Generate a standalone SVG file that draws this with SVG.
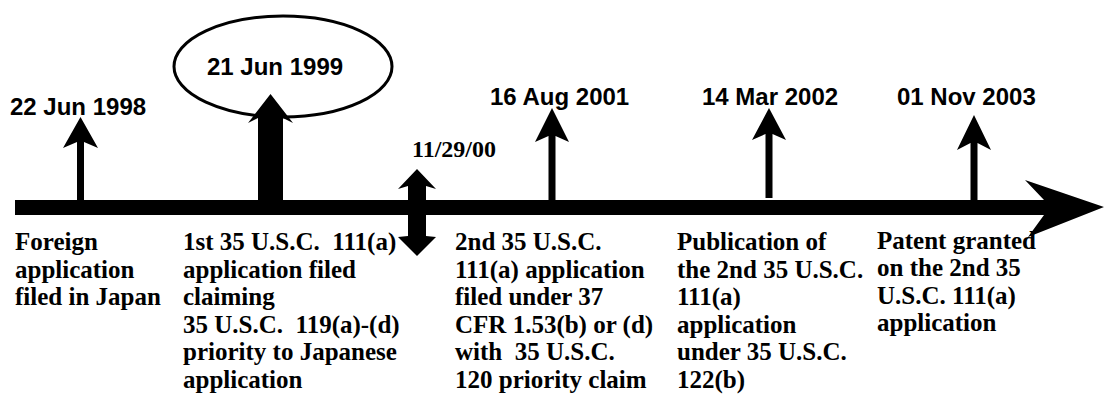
<svg xmlns="http://www.w3.org/2000/svg" width="1104" height="395" viewBox="0 0 1104 395">
<style>
.date{font-family:"Liberation Sans",Arial,sans-serif;font-weight:bold;font-size:24px;fill:#000}
.note{font-family:"Liberation Serif","Times New Roman",serif;font-weight:bold;font-size:25px;fill:#000;white-space:pre}
.blk{fill:#000;stroke:none}
</style>
<rect width="1104" height="395" fill="#fff"/>
<g id="timeline">
<rect class="blk" x="15" y="200" width="1032" height="15"/>
<polygon class="blk" points="1025,180 1104,207 1028,237 1044,215 1044,200"/>
</g>
<g id="connectors">
<polygon class="blk" points="80.5,117 98,148 84,142 84,200 77,200 77,142 63,148"/>
<polygon class="blk" points="270.5,94 293,123 283,118 283,200 258,200 258,118 248,123"/>
<polygon class="blk" points="417,169 436,189 426,186 426,236 436,237 417,256 398,237 408,236 408,186 398,189"/>
<polygon class="blk" points="552,108 569,142 555.5,136 555.5,200 548.5,200 548.5,136 535,142"/>
<polygon class="blk" points="769,108 786,140 772.5,134 772.5,198 765.5,198 765.5,134 752,140"/>
<polygon class="blk" points="974,115 991,150 977.5,143 977.5,200 970.5,200 970.5,143 957,150"/>
</g>
<g id="n1998">
<text class="date" x="10" y="115">22 Jun 1998</text>
<text class="note" x="15" y="250">Foreign</text>
<text class="note" x="15" y="277.6">application</text>
<text class="note" x="15" y="305.2">filed in Japan</text>
</g>
<g id="n1999">
<ellipse cx="283" cy="66.5" rx="109" ry="50.5" fill="none" stroke="#000" stroke-width="3"/>
<text class="date" x="207" y="75">21 Jun 1999</text>
<text class="note" x="183" y="250">1st 35 U.S.C.  111(a)</text>
<text class="note" x="183" y="277.6">application filed</text>
<text class="note" x="183" y="305.2">claiming</text>
<text class="note" x="183" y="332.8">35 U.S.C.  119(a)-(d)</text>
<text class="note" x="183" y="360.4">priority to Japanese</text>
<text class="note" x="183" y="388">application</text>
</g>
<g id="n2000">
<text class="note" x="412" y="157" style="font-size:24px">11/29/00</text>
</g>
<g id="n2001">
<text class="date" x="490" y="105">16 Aug 2001</text>
<text class="note" x="455" y="250">2nd 35 U.S.C.</text>
<text class="note" x="455" y="277.6">111(a) application</text>
<text class="note" x="455" y="305.2">filed under 37</text>
<text class="note" x="455" y="332.8">CFR 1.53(b) or (d)</text>
<text class="note" x="455" y="360.4">with  35 U.S.C.</text>
<text class="note" x="455" y="388">120 priority claim</text>
</g>
<g id="n2002">
<text class="date" x="702" y="105">14 Mar 2002</text>
<text class="note" x="677" y="250">Publication of</text>
<text class="note" x="677" y="277.6">the 2nd 35 U.S.C.</text>
<text class="note" x="677" y="305.2">111(a)</text>
<text class="note" x="677" y="332.8">application</text>
<text class="note" x="677" y="360.4">under 35 U.S.C.</text>
<text class="note" x="677" y="388">122(b)</text>
</g>
<g id="n2003">
<text class="date" x="897" y="105">01 Nov 2003</text>
<text class="note" x="877" y="248.5">Patent granted</text>
<text class="note" x="877" y="276.1">on the 2nd 35</text>
<text class="note" x="877" y="303.7">U.S.C. 111(a)</text>
<text class="note" x="877" y="331.3">application</text>
</g>
</svg>
